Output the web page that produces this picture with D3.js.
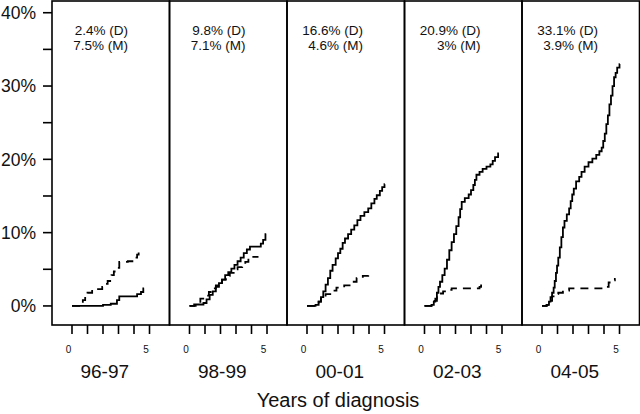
<!DOCTYPE html>
<html>
<head>
<meta charset="utf-8">
<script src="https://cdn.jsdelivr.net/npm/d3@7"></script>
<style>
  html, body { margin: 0; padding: 0; background: #fff; }
  svg { display: block; font-family: "Liberation Sans", Arial, sans-serif; }
</style>
</head>
<body>
<svg id="chart" width="640" height="414"></svg>
<script>
// ---- Data ----
const periods = ["96-97", "98-99", "00-01", "02-03", "04-05"];
const labelD = ["2.4% (D)", "9.8% (D)", "16.6% (D)", "20.9% (D)", "33.1% (D)"];
const labelM = ["7.5% (M)", "7.1% (M)", "4.6% (M)", "3% (M)", "3.9% (M)"];
const yTickValues = [0, 10, 20, 30, 40];
const yMinorTicks = [0, 5, 10, 15, 20, 25, 30, 35, 40];
const xTickValues = [0, 1, 2, 3, 4, 5];
const xLabelValues = [0, 5];
const xTitle = "Years of diagnosis";

// Step curves: [years, cumulative %]
const dCurves = [
  [[0,0],[2.0,0.15],[2.5,0.3],[2.9,0.8],[3.05,1.3],[4.2,1.6],[4.45,1.9],[4.6,2.4],[4.65,2.4]],
  [[0,0],[0.3,0.2],[0.9,0.4],[1.1,0.9],[1.3,1.5],[1.5,2.0],[1.7,2.6],[1.9,3.1],[2.1,3.6],[2.3,4.2],[2.5,4.6],[2.7,5.1],[2.9,5.6],[3.1,6.1],[3.3,6.6],[3.5,7.2],[3.7,7.7],[3.9,8.1],[4.6,8.5],[4.75,9.0],[4.9,9.8],[4.95,9.8]],
  [[0,0],[0.55,0.15],[0.75,0.6],[0.9,1.2],[1.05,2.0],[1.2,2.9],[1.35,3.8],[1.5,4.8],[1.65,5.6],[1.85,6.5],[2.0,7.2],[2.15,7.8],[2.3,8.6],[2.45,9.2],[2.65,9.8],[2.85,10.4],[3.05,11.0],[3.25,11.7],[3.45,12.3],[3.7,12.8],[3.95,13.3],[4.15,14.0],[4.35,14.6],[4.5,15.1],[4.7,15.7],[4.85,16.2],[5.0,16.6],[5.02,16.6]],
  [[0,0],[0.45,0.15],[0.6,0.6],[0.7,1.0],[0.8,1.8],[0.9,2.6],[1.0,3.3],[1.15,4.2],[1.3,5.1],[1.45,6.3],[1.6,7.6],[1.75,8.7],[1.9,9.8],[2.05,10.9],[2.2,12.1],[2.3,13.2],[2.4,14.2],[2.6,14.7],[2.85,15.2],[3.0,15.8],[3.15,16.5],[3.25,17.2],[3.35,17.9],[3.55,18.3],[3.75,18.7],[4.0,19.0],[4.25,19.3],[4.4,19.8],[4.55,20.3],[4.75,20.8],[4.8,20.8]],
  [[0,0],[0.3,0.15],[0.45,0.6],[0.55,1.2],[0.65,1.8],[0.75,2.5],[0.82,3.4],[0.9,4.5],[0.97,5.5],[1.05,6.6],[1.15,8.0],[1.25,9.4],[1.35,10.7],[1.45,11.6],[1.6,12.5],[1.75,13.3],[1.85,14.3],[1.95,15.2],[2.05,16.0],[2.2,17.0],[2.4,17.6],[2.55,18.3],[2.75,19.0],[3.0,19.6],[3.25,20.1],[3.5,20.6],[3.7,21.1],[3.85,21.6],[3.95,22.5],[4.05,23.5],[4.15,24.8],[4.25,26.0],[4.35,27.5],[4.45,28.7],[4.55,30.0],[4.65,31.2],[4.75,31.8],[4.85,32.5],[5.0,33.0],[5.02,33.0]]
];
const mCurves = [
  [[0,0],[0.7,0.8],[0.85,1.3],[1.0,1.8],[1.3,2.3],[1.95,2.6],[2.1,3.0],[2.3,3.4],[2.55,4.2],[2.7,4.7],[2.85,5.2],[3.05,6.0],[3.6,6.1],[4.0,6.6],[4.2,7.0],[4.3,7.3],[4.35,7.3]],
  [[0,0],[0.4,0.3],[0.7,1.0],[1.0,1.4],[1.25,1.9],[1.45,2.4],[1.7,2.8],[1.9,3.3],[2.1,3.6],[2.35,4.1],[2.6,4.5],[2.85,5.0],[3.1,5.3],[3.4,5.6],[3.6,6.0],[3.8,6.3],[4.0,6.7],[4.45,6.7]],
  [[0,0],[0.55,0.2],[0.75,0.6],[0.9,1.1],[1.2,1.6],[1.5,2.1],[1.9,2.5],[2.4,2.8],[2.9,3.3],[3.2,3.8],[3.6,4.1],[3.95,4.4],[4.0,4.4]],
  [[0,0],[0.45,0.15],[0.65,0.7],[0.8,1.2],[0.95,1.7],[1.2,2.0],[1.55,2.2],[1.75,2.4],[3.55,2.6],[3.65,2.8],[4.0,2.8]],
  [[0,0],[0.3,0.15],[0.5,0.7],[0.65,1.3],[0.85,1.6],[1.05,1.8],[1.35,2.1],[1.75,2.4],[4.05,2.6],[4.3,3.2],[4.45,3.5],[4.7,3.7],[4.75,3.7]]
];

// ---- Layout ----
const svg = d3.select("#chart");
const plotLeft = 52, plotRight = 639.5, plotTop = 1, plotBottom = 325;

const y = d3.scaleLinear().domain([-2.6, 41.6]).range([plotBottom, plotTop]);
const panelX = d3.scaleBand().domain(periods).range([plotLeft, plotRight]).padding(0);

// Y axis
const yAxisG = svg.append("g").attr("transform", `translate(${plotLeft},0)`);
yAxisG.selectAll("line.tick").data(yMinorTicks).join("line")
  .attr("class", "tick")
  .attr("x1", -9).attr("x2", 0)
  .attr("y1", d => y(d)).attr("y2", d => y(d))
  .attr("stroke", "#000").attr("stroke-width", 1.6);
yAxisG.selectAll("text").data(yTickValues).join("text")
  .attr("x", -16).attr("y", d => y(d))
  .attr("dy", "0.36em")
  .attr("text-anchor", "end")
  .attr("font-size", 17.5)
  .attr("fill", "#111")
  .text(d => d + "%");

const line = d3.line().curve(d3.curveStepAfter);

periods.forEach((p, i) => {
  const x0 = panelX(p);
  const x = d3.scaleLinear().domain([-1.29, 6.29]).range([x0, x0 + panelX.bandwidth()]);
  const g = svg.append("g");

  // frame
  g.append("rect")
    .attr("x", x0).attr("y", plotTop)
    .attr("width", panelX.bandwidth()).attr("height", plotBottom - plotTop)
    .attr("fill", "none").attr("stroke", "#000").attr("stroke-width", 1.6);

  line.x(d => x(d[0])).y(d => y(d[1]));

  g.append("path").datum(mCurves[i])
    .attr("d", line)
    .attr("fill", "none").attr("stroke", "#000").attr("stroke-width", 1.8)
    .attr("stroke-dasharray", "8,6");

  g.append("path").datum(dCurves[i])
    .attr("d", line)
    .attr("fill", "none").attr("stroke", "#000").attr("stroke-width", 1.8);

  // x ticks
  g.selectAll("line.xt").data(xTickValues).join("line")
    .attr("class", "xt")
    .attr("x1", d => x(d)).attr("x2", d => x(d))
    .attr("y1", plotBottom).attr("y2", plotBottom + 9)
    .attr("stroke", "#000").attr("stroke-width", 1.6);
  g.selectAll("text.xl").data(xLabelValues).join("text")
    .attr("class", "xl")
    .attr("x", d => x(d) - 3.5).attr("y", plotBottom + 28)
    .attr("text-anchor", "middle")
    .attr("font-size", 10)
    .attr("fill", "#111")
    .text(d => d);

  // period label
  g.append("text")
    .attr("x", x0 + panelX.bandwidth() / 2 - 6)
    .attr("y", 378)
    .attr("text-anchor", "middle")
    .attr("font-size", 19)
    .attr("fill", "#111")
    .text(p);

  // annotation
  const ax = x0 + 76;
  g.append("text")
    .attr("x", ax).attr("y", 35)
    .attr("text-anchor", "end")
    .attr("font-size", 13.5)
    .attr("fill", "#111")
    .text(labelD[i]);
  g.append("text")
    .attr("x", ax).attr("y", 50)
    .attr("text-anchor", "end")
    .attr("font-size", 13.5)
    .attr("fill", "#111")
    .text(labelM[i]);
});

// x title
svg.append("text")
  .attr("x", 338).attr("y", 407)
  .attr("text-anchor", "middle")
  .attr("font-size", 20)
  .attr("fill", "#111")
  .text(xTitle);
</script>
</body>
</html>
